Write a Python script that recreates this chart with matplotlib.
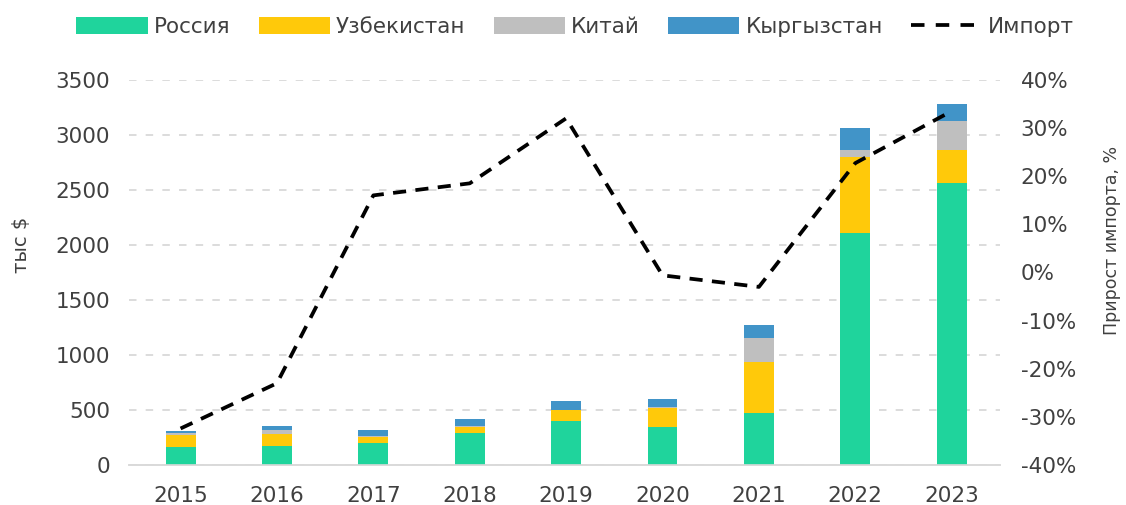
import matplotlib
matplotlib.use('Agg')
import matplotlib.pyplot as plt
from matplotlib.lines import Line2D
import numpy as np

# DATA
years = ['2015', '2016', '2017', '2018', '2019', '2020', '2021', '2022', '2023']
russia = [166, 176, 203, 294, 403, 348, 473, 2106, 2561]
uzbek = [106, 103, 49, 54, 97, 173, 463, 697, 303]
china = [16, 39, 12, 6, 5, 5, 219, 61, 266]
kyrgyz = [21, 37, 54, 64, 80, 74, 118, 197, 152]
import_growth = [-32.4, -23.0, 16.0, 18.5, 32.0, -0.6, -3.0, 22.7, 33.5]

GREEN = '#1fd49c'
YELLOW = '#ffc90a'
GRAY = '#bfbfbf'
BLUE = '#4194c8'
TXT = '#404040'

plt.rcParams['font.family'] = ['DejaVu Sans']

fig = plt.figure(figsize=(11.26, 5.05), dpi=100)
ax = fig.add_axes([0.115, 0.079, 0.773, 0.763])
ax2 = ax.twinx()

x = np.arange(len(years))
w = 0.31
b1 = np.array(russia)
b2 = b1 + np.array(uzbek)
b3 = b2 + np.array(china)
ax.bar(x, russia, w, color=GREEN, label='Россия', zorder=3)
ax.bar(x, uzbek, w, bottom=b1, color=YELLOW, label='Узбекистан', zorder=3)
ax.bar(x, china, w, bottom=b2, color=GRAY, label='Китай', zorder=3)
ax.bar(x, kyrgyz, w, bottom=b3, color=BLUE, label='Кыргызстан', zorder=3)

ax2.plot(x, import_growth, color='black', linestyle=(0, (3.5, 2.5)), linewidth=2.7,
         zorder=4)

ax.set_xlim(-0.53, 8.5)
ax.set_ylim(0, 3500)
ax.set_yticks(range(0, 3501, 500))
ax2.set_ylim(-40, 40)
ax2.set_yticks(range(-40, 41, 10))
ax2.set_yticklabels([f'{v}%' for v in range(-40, 41, 10)])

ax.set_xticks(x)
ax.set_xticklabels(years)
ax.yaxis.grid(True, color='#d6d6d6', linestyle=(0, (4.5, 5.5)), linewidth=1.2, zorder=0)
ax.set_axisbelow(True)

for a in (ax, ax2):
    for s in ['top', 'left', 'right']:
        a.spines[s].set_visible(False)
    a.spines['bottom'].set_color('#d9d9d9')
    a.spines['bottom'].set_linewidth(1.2)
    a.tick_params(length=0, labelsize=15.5, colors=TXT)
ax.tick_params(axis='y', pad=14)
ax.tick_params(axis='x', pad=15)
ax2.tick_params(axis='y', pad=15)

ax.set_ylabel('тыс $', fontsize=14, color=TXT)
ax.yaxis.set_label_coords(-0.113, 0.571)
ax2.set_ylabel('Прирост импорта, %', fontsize=12.5, color=TXT)
ax2.yaxis.set_label_coords(1.118, 0.584)

ax2.set_zorder(ax.get_zorder() + 1)
ax2.patch.set_visible(False)

# legend proxy for the dashed line, so the dashes end before the text
imp_handle = Line2D([], [], color='black', linestyle=(0, (3.6, 3.0)), linewidth=2.7)
h1, l1 = ax.get_legend_handles_labels()
fig.legend(h1 + [imp_handle], l1 + ['Импорт'], loc='upper center',
           bbox_to_anchor=(0.511, 1.005), ncol=5,
           frameon=False, fontsize=15.5, handlelength=3.3, handleheight=0.85,
           columnspacing=1.3, handletextpad=0.3, labelcolor=TXT)

fig.savefig('out.png', dpi=100)
